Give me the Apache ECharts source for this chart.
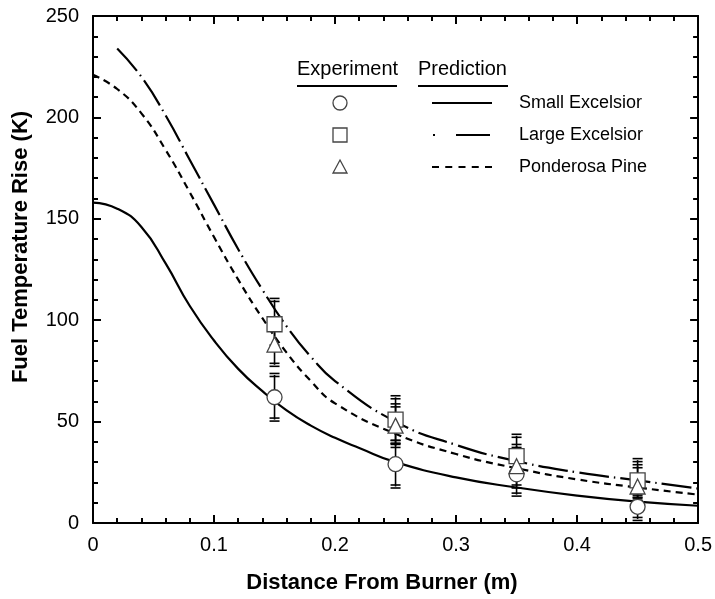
<!DOCTYPE html>
<html>
<head>
<meta charset="utf-8">
<script src="https://cdn.jsdelivr.net/npm/echarts@6/dist/echarts.min.js"></script>
<style>
html, body { margin: 0; padding: 0; background: #fff; }
#chart { width: 715px; height: 599px; }
</style>
</head>
<body>
<div id="chart"></div>
<script>
// predicted curves (distance m, temperature rise K)
var smallX = [0, 0.02, 0.04, 0.06, 0.08, 0.1, 0.12, 0.14, 0.16, 0.18, 0.2, 0.22, 0.25, 0.3, 0.35, 0.4, 0.45, 0.5];
var smallY = [158, 155, 146, 128, 107, 90, 76, 65, 55.5, 48, 42, 37, 30, 22.5, 17.5, 13.5, 10.5, 8.5];
var largeX = [0.02, 0.04, 0.06, 0.08, 0.1, 0.12, 0.14, 0.16, 0.18, 0.2, 0.25, 0.3, 0.35, 0.4, 0.45, 0.5];
var largeY = [234, 220, 201, 179, 157, 135, 115, 97, 82, 70, 50, 38.5, 30.5, 25, 21, 17];
var pineX = [0, 0.02, 0.04, 0.06, 0.08, 0.1, 0.12, 0.14, 0.16, 0.18, 0.2, 0.25, 0.3, 0.35, 0.4, 0.45, 0.5];
var pineY = [221, 214, 202, 184, 163, 141, 120, 101, 84, 70, 59, 44, 34, 27, 21.5, 17.5, 14];

// experiments
var expX = [0.15, 0.25, 0.35, 0.45];
var smallExp = [62, 29, 24, 8];
var smallLow = [51, 18, 14, 2];
var smallHigh = [73, 40, 34, 13];
var largeExp = [98, 51, 33, 21];
var largeLow = [87, 40, 23, 12];
var largeHigh = [110, 62, 43, 31];
var pineExp = [88, 48, 28, 18];
var pineLow = [78, 38, 18, 10];
var pineHigh = [99, 58, 38, 28];

var xTicks = [0, 0.1, 0.2, 0.3, 0.4, 0.5];

function pairs(xs, ys) {
    return xs.map(function (x, i) { return [x, ys[i]]; });
}
function bars(lo, hi) {
    return expX.map(function (x, i) { return [x, lo[i], hi[i]]; });
}

function renderBar(params, api) {
    var x = api.value(0);
    var p1 = api.coord([x, api.value(1)]);
    var p2 = api.coord([x, api.value(2)]);
    var st = { stroke: '#000', lineWidth: 1.6 };
    var w = 5;
    var kids = [{ type: 'line', shape: { x1: p1[0], y1: p1[1], x2: p2[0], y2: p2[1] }, style: st }];
    [p1, p2].forEach(function (p) {
        kids.push({ type: 'line', shape: { x1: p[0] - w, y1: p[1] - 1.5, x2: p[0] + w, y2: p[1] - 1.5 }, style: st });
        kids.push({ type: 'line', shape: { x1: p[0] - w, y1: p[1] + 1.5, x2: p[0] + w, y2: p[1] + 1.5 }, style: st });
    });
    return { type: 'group', children: kids };
}

function errSeries(lo, hi) {
    return { type: 'custom', renderItem: renderBar, data: bars(lo, hi), z: 3, silent: true };
}
function markSeries(sym, vals, size) {
    return {
        type: 'scatter', symbol: sym, symbolSize: size, z: 4,
        data: pairs(expX, vals),
        itemStyle: { color: '#fff', borderColor: '#444', borderWidth: 1.3, opacity: 1 }
    };
}
function lineSeries(xs, ys, type) {
    return {
        type: 'line', data: pairs(xs, ys), smooth: true, showSymbol: false, z: 2,
        lineStyle: { color: '#000', width: 2.2, type: type }
    };
}

var font = 'Liberation Sans, Arial, sans-serif';
var tickStyle = { show: true, inside: true, length: 8, lineStyle: { color: '#000', width: 2 } };
var minorStyle = { show: true, splitNumber: 5, length: 5, lineStyle: { color: '#000', width: 2 } };
var axisLn = { show: true, onZero: false, lineStyle: { color: '#000', width: 2 } };

var chart = echarts.init(document.getElementById('chart'));
var option = {
    animation: false,
    backgroundColor: '#fff',
    grid: { left: 93, right: 13, top: 16, bottom: 76 },
    xAxis: [{
        type: 'value', min: 0, max: 0.5, interval: 0.1,
        axisLine: axisLn, axisTick: tickStyle, minorTick: minorStyle, splitLine: { show: false },
        axisLabel: { color: '#000', fontSize: 20, fontFamily: font, margin: 12,
            formatter: function (v) { var r = Math.round(v * 10) / 10; return xTicks.indexOf(r) >= 0 ? String(r) : ''; } }
    }, {
        type: 'value', position: 'top', min: 0, max: 0.5, interval: 0.1,
        axisLine: axisLn, axisTick: tickStyle, minorTick: minorStyle, splitLine: { show: false },
        axisLabel: { show: false }
    }],
    yAxis: [{
        type: 'value', min: 0, max: 250, interval: 50,
        axisLine: axisLn, axisTick: tickStyle, minorTick: minorStyle, splitLine: { show: false },
        axisLabel: { color: '#000', fontSize: 20, fontFamily: font, margin: 14 }
    }, {
        type: 'value', position: 'right', min: 0, max: 250, interval: 50,
        axisLine: axisLn, axisTick: tickStyle, minorTick: minorStyle, splitLine: { show: false },
        axisLabel: { show: false }
    }],
    series: [
        lineSeries(smallX, smallY, 'solid'),
        lineSeries(largeX, largeY, [30, 5, 1.5, 5]),
        lineSeries(pineX, pineY, [7, 5]),
        errSeries(smallLow, smallHigh),
        errSeries(largeLow, largeHigh),
        errSeries(pineLow, pineHigh),
        markSeries('circle', smallExp, 15),
        markSeries('rect', largeExp, 15),
        markSeries('triangle', pineExp, 15)
    ],
    graphic: [
        { type: 'text', x: 382, y: 583, style: { text: 'Distance From Burner (m)', font: 'bold 22px ' + font, fill: '#000', align: 'center', verticalAlign: 'middle' } },
        { type: 'text', x: 21, y: 247, rotation: Math.PI / 2, style: { text: 'Fuel Temperature Rise (K)', font: 'bold 22px ' + font, fill: '#000', align: 'center', verticalAlign: 'middle' } },
        { type: 'text', left: 297, top: 59, style: { text: 'Experiment', font: '20px ' + font, fill: '#000' } },
        { type: 'line', shape: { x1: 297, y1: 86, x2: 397, y2: 86 }, style: { stroke: '#000', lineWidth: 2 } },
        { type: 'text', left: 418, top: 59, style: { text: 'Prediction', font: '20px ' + font, fill: '#000' } },
        { type: 'line', shape: { x1: 418, y1: 86, x2: 508, y2: 86 }, style: { stroke: '#000', lineWidth: 2 } },
        { type: 'circle', shape: { cx: 340, cy: 103, r: 7 }, style: { fill: '#fff', stroke: '#444', lineWidth: 1.3 } },
        { type: 'rect', shape: { x: 333, y: 128, width: 14, height: 14 }, style: { fill: '#fff', stroke: '#444', lineWidth: 1.3 } },
        { type: 'polygon', shape: { points: [[340, 160], [347, 173], [333, 173]] }, style: { fill: '#fff', stroke: '#444', lineWidth: 1.3 } },
        { type: 'line', shape: { x1: 432, y1: 103, x2: 492, y2: 103 }, style: { stroke: '#000', lineWidth: 2.2 } },
        { type: 'line', shape: { x1: 433, y1: 135, x2: 435, y2: 135 }, style: { stroke: '#000', lineWidth: 2.2 } },
        { type: 'line', shape: { x1: 456, y1: 135, x2: 490, y2: 135 }, style: { stroke: '#000', lineWidth: 2.2 } },
        { type: 'line', shape: { x1: 432, y1: 167, x2: 492, y2: 167 }, style: { stroke: '#000', lineWidth: 2.2, lineDash: [7, 6.25] } },
        { type: 'text', left: 519, top: 94, style: { text: 'Small Excelsior', font: '18px ' + font, fill: '#000' } },
        { type: 'text', left: 519, top: 126, style: { text: 'Large Excelsior', font: '18px ' + font, fill: '#000' } },
        { type: 'text', left: 519, top: 158, style: { text: 'Ponderosa Pine', font: '18px ' + font, fill: '#000' } }
    ]
};
chart.setOption(option);
</script>
</body>
</html>
